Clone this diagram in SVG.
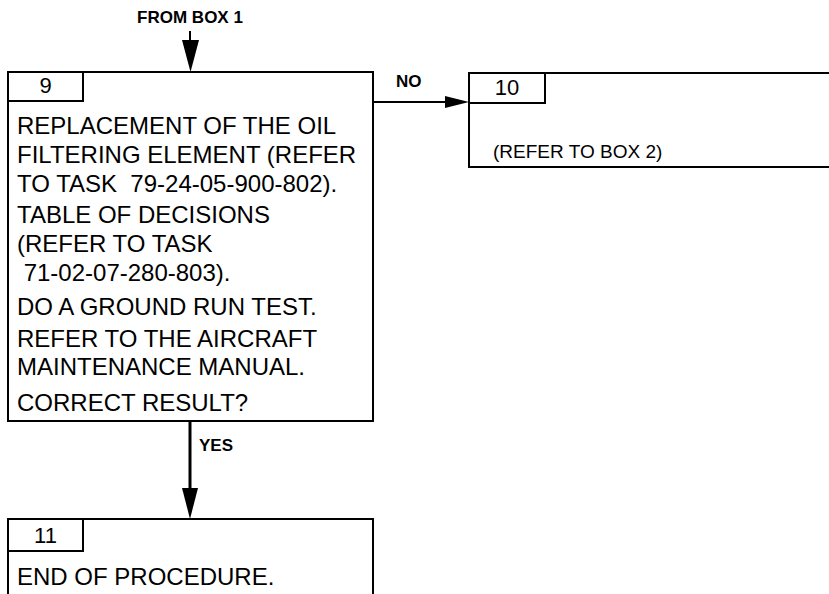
<svg xmlns="http://www.w3.org/2000/svg" width="829" height="594" viewBox="0 0 829 594">
<style>
  .box { fill: #fff; stroke: #000; stroke-width: 2; }
  .edge { fill: none; stroke: #000; stroke-width: 2; }
  .t { font-family: "Liberation Sans", Arial, sans-serif; font-size: 24px; fill: #000; white-space: pre; }
  .num { font-family: "Liberation Sans", Arial, sans-serif; font-size: 22px; fill: #000; text-anchor: middle; }
  .small { font-family: "Liberation Sans", Arial, sans-serif; font-size: 19px; fill: #000; }
  .lbl { font-family: "Liberation Sans", Arial, sans-serif; font-size: 17px; font-weight: bold; fill: #000; }
  .head { fill: #000; stroke: none; }
</style>
<rect width="829" height="594" fill="#fff"/>

<g id="connectors">
  <text class="lbl" x="190" y="23" text-anchor="middle">FROM BOX 1</text>
  <line class="edge" x1="190" y1="31" x2="190" y2="45"/>
  <polygon class="head" points="182,40 199,40 190.5,72"/>

  <line class="edge" x1="373" y1="102" x2="450" y2="102"/>
  <polygon class="head" points="445,96 469,102 445,108"/>
  <text class="lbl" x="396" y="87">NO</text>

  <line class="edge" x1="190" y1="421" x2="190" y2="495" style="stroke-width:3"/>
  <polygon class="head" points="182,488 198,488 190,519"/>
  <text class="lbl" x="199" y="451">YES</text>
</g>

<g id="box9">
  <rect class="box" x="8" y="72" width="365" height="349"/>
  <rect class="box" x="8" y="72" width="75" height="29"/>
  <text class="num" x="45.5" y="93">9</text>
  <text class="t" x="17" y="134">REPLACEMENT OF THE OIL</text>
  <text class="t" x="17" y="163">FILTERING ELEMENT (REFER</text>
  <text class="t" x="17" y="192">TO TASK  79-24-05-900-802).</text>
  <text class="t" x="17" y="223">TABLE OF DECISIONS</text>
  <text class="t" x="17" y="252">(REFER TO TASK</text>
  <text class="t" x="17" y="281"> 71-02-07-280-803).</text>
  <text class="t" x="17" y="315">DO A GROUND RUN TEST.</text>
  <text class="t" x="17" y="347">REFER TO THE AIRCRAFT</text>
  <text class="t" x="17" y="375">MAINTENANCE MANUAL.</text>
  <text class="t" x="17" y="411">CORRECT RESULT?</text>
</g>

<g id="box10">
  <path class="box" d="M840,73 L469,73 L469,167 L840,167"/>
  <rect class="box" x="469" y="73" width="76" height="30"/>
  <text class="num" x="507" y="95">10</text>
  <text class="small" x="493" y="158">(REFER TO BOX 2)</text>
</g>

<g id="box11">
  <path class="box" d="M8,600 L8,519 L373,519 L373,600"/>
  <rect class="box" x="8" y="519" width="75" height="32"/>
  <text class="num" x="45.5" y="543">11</text>
  <text class="t" x="17" y="585">END OF PROCEDURE.</text>
</g>
</svg>
